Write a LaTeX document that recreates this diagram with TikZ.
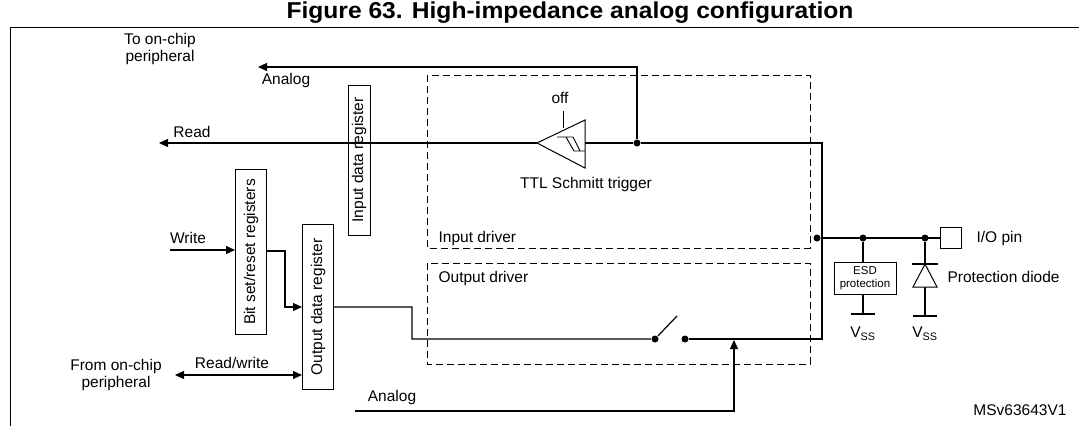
\documentclass[tikz,border=0pt]{standalone}
\usepackage{fontspec}
\setmainfont{Liberation Sans}
\usetikzlibrary{arrows.meta}
\begin{document}
\begin{tikzpicture}[x=1pt,y=-1pt,line width=1.2pt,
  txt/.style={inner sep=0pt,font=\fontsize{15.5}{17}\selectfont},
  reg/.style={draw,line width=1pt,inner sep=0pt,minimum height=31pt,rotate=90,font=\fontsize{15.5}{17}\selectfont},
  dbox/.style={draw,dashed,line width=1pt,dash pattern=on 7pt off 4pt},
  arr/.style={-{Triangle[length=9pt,width=8pt]}},
  dot/.style={circle,fill,inner sep=0pt,minimum size=7pt}]
\useasboundingbox (0,0) rectangle (1079,426);
\node[inner sep=0pt,font=\bfseries\fontsize{23}{25}\selectfont] (title) at (570,13) {\scalebox{1.07}[1]{Figure 63. High-impedance analog configuration}};
\draw[line width=1pt] (10,426) -- (10,27) -- (1079,27);
% dashed boxes
\draw[dbox] (427,75) rectangle (810,248);
\draw[dbox] (427,263) rectangle (810,364);
\node[txt,anchor=west] (indrv) at (438,238) {Input driver};
\node[txt,anchor=west] (outdrv) at (438,278) {Output driver};
% texts
\node[txt,align=center] (toperi) at (160,49) {To on-chip\\peripheral};
\node[txt] (an1) at (286,80) {Analog};
\node[txt] (read) at (192,132) {Read};
\node[txt] (write) at (188,238) {Write};
\node[txt] (rw) at (232,363) {Read/write};
\node[txt,align=center] (fromp) at (116,375) {From on-chip\\peripheral};
\node[txt] (an2) at (392,397) {Analog};
\node[txt] (ms) at (1020,410) {MSv63643V1};
% registers
\node[reg,minimum height=22pt,minimum width=150pt] (idr) at (359,160) {Input data register};
\node[reg,minimum width=165pt] (bsr) at (251,252) {Bit set/reset registers};
\node[reg,minimum width=165pt] (odr) at (318,307) {Output data register};
% schmitt trigger
\coordinate (tip) at (537,143);
\draw[line width=1pt] (tip) -- (585,120) -- (585,168) -- cycle;
\draw[line width=0.9pt] (557,137) -- (566,137) -- (574,151) -- (585,151) (566,137) -- (573,137) -- (580,151);
\draw[line width=1pt] (563,111) -- (563,128);
\node[txt] (off) at (560,98) {off};
\node[txt] (ttl) at (586,184) {TTL Schmitt trigger};
\node[dot] (d1) at (637,143) {};
% read line
\draw[arr] (idr.south |- 0,143) -- (159,143);
\draw (idr.north |- 0,143) -- (tip);
\draw (585,143) -- (d1) -- (822,143) coordinate (tr) -- (822,339) coordinate (br);
\draw[arr] (d1) -- (637,67) -- (258,67);
% pin side
\node[dot] (d2) at (817,238) {};
\node[dot] (d3) at (863,238) {};
\node[dot] (d4) at (925,238) {};
\node[draw,line width=1pt,minimum size=21pt,inner sep=0pt] (pin) at (951,238) {};
\node[txt,anchor=west] (iop) at (976,238) {I/O pin};
\draw (d2) -- (pin.west);
\node[draw,line width=1pt,minimum width=62pt,minimum height=32pt,inner sep=0pt,align=center,font=\fontsize{11.5}{12.5}\selectfont] (esd) at (865,278) {ESD\\protection};
\draw (d3) -- (863,262);
\draw (863,294) -- (863,314) (851,314) -- (875,314);
\node[txt] (vss1) at (863,334) {V\textsubscript{SS}};
\draw (d4) -- (925,316) (913,316) -- (937,316);
\draw[line width=1pt,fill=white] (925,264) -- (913,287) -- (937,287) -- cycle;
\draw (912,264) -- (938,264);
\node[txt] (vss2) at (925,334) {V\textsubscript{SS}};
\node[txt,anchor=west] (pd) at (947,277) {Protection diode};
% left side connections
\draw[arr] (170,250) -- (bsr.north |- 0,250);
\draw[arr] (bsr.south |- 0,251) -- (285,251) -- (285,307) -- (odr.north |- 0,307);
\draw[{Triangle[length=9pt,width=8pt]}-{Triangle[length=9pt,width=8pt]}] (175,375) -- (odr.north |- 0,375);
% output path + switch
\node[dot] (s1) at (655,339) {};
\node[dot] (s2) at (685,339) {};
\draw (odr.south |- 0,307) -- (412,307) -- (412,339) -- (s1) -- (677,316);
\draw (s2) -- (br) -- (tr);
\draw[arr] (355,411) -- (734,411) -- (734,340);
\end{tikzpicture}
\end{document}
